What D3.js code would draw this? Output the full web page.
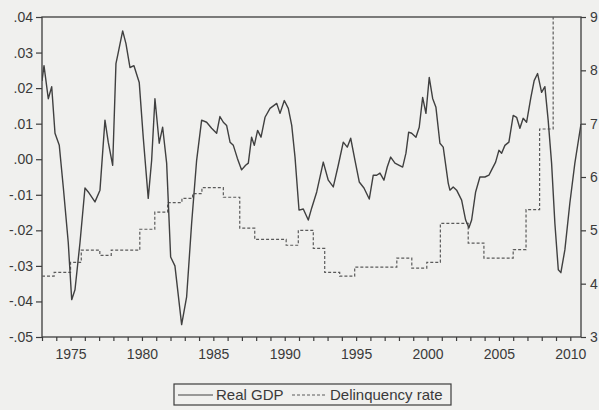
<!DOCTYPE html>
<html>
<head>
<meta charset="utf-8">
<script src="https://cdn.jsdelivr.net/npm/d3@7"></script>
<style>
  html, body { margin: 0; padding: 0; background: #f0f0ee; }
  svg { display: block; }
  text { font-family: "Liberation Sans", Arial, sans-serif; fill: #3a3a3a; }
</style>
</head>
<body>
<svg id="chart" width="599" height="410"></svg>
<script>
// ---- Data ----
const gdpYears = [1973.0,1973.14,1973.44,1973.68,1973.91,1974.21,1974.49,1974.84,1975.08,1975.31,
  1975.66,1976.01,1976.24,1976.71,1977.06,1977.41,1977.64,1977.95,1978.18,1978.34,
  1978.65,1978.88,1979.16,1979.44,1979.81,1980.09,1980.44,1980.68,1980.91,1981.21,
  1981.45,1981.73,1982.01,1982.31,1982.78,
  1983.13,1983.48,1983.83,1984.18,1984.53,1984.88,1985.23,1985.46,1985.70,1985.93,
  1986.17,1986.40,1986.68,1986.98,1987.26,1987.45,1987.68,1987.87,1988.10,1988.34,
  1988.62,1988.97,1989.44,1989.67,1989.97,1990.25,1990.49,1990.72,1991.00,1991.30,
  1991.65,1991.89,
  1992.24,1992.70,1993.05,1993.40,1993.75,1994.10,1994.38,1994.62,1994.92,1995.22,
  1995.55,1995.92,1996.20,1996.44,1996.67,1996.95,1997.18,1997.42,1997.72,1998.02,
  1998.26,1998.49,1998.68,1998.89,1999.19,1999.42,1999.66,1999.89,2000.12,2000.36,
  2000.59,2000.87,2001.10,2001.45,
  2001.57,2001.80,2002.04,2002.39,2002.67,2002.90,2003.09,2003.37,2003.67,2004.02,
  2004.30,2004.49,2004.77,2005.00,2005.19,2005.42,2005.70,2006.00,2006.24,2006.47,
  2006.70,2006.94,2007.24,2007.47,2007.71,2007.99,2008.22,2008.45,2008.69,2008.92,
  2009.16,2009.34,2009.62,2009.97,2010.32,2010.75];

const gdpValues = [0.022,0.0263,0.017,0.0204,0.0073,0.0039,-0.0078,-0.0235,-0.0395,-0.0367,
  -0.0235,-0.0081,-0.0092,-0.012,-0.0087,0.011,0.0048,-0.0017,0.0269,0.030,
  0.0361,0.0325,0.0258,0.0263,0.0216,0.0062,-0.011,-0.0003,0.017,0.0045,
  0.009,-0.0011,-0.0275,-0.030,-0.0465,
  -0.0387,-0.018,-0.0003,0.011,0.0104,0.0087,0.0073,0.012,0.0104,0.0095,
  0.0048,0.0039,0.0003,-0.003,-0.0017,-0.0011,0.0062,0.0039,0.0081,0.0062,
  0.0118,0.0143,0.0157,0.0129,0.0165,0.0143,0.0095,0.0006,-0.0143,-0.014,
  -0.0171,-0.0137,
  -0.0092,-0.0008,-0.0059,-0.0078,-0.0017,0.0048,0.0034,0.0059,-0.0003,-0.0064,
  -0.0081,-0.0112,-0.0045,-0.0045,-0.0039,-0.0059,-0.0022,0.0006,-0.0011,-0.0017,
  -0.0022,0.0017,0.0076,0.0073,0.0062,0.009,0.0174,0.0129,0.023,0.0171,
  0.0146,0.0045,0.0034,-0.0067,
  -0.0087,-0.0078,-0.0087,-0.0115,-0.0171,-0.0193,-0.0171,-0.0092,-0.005,-0.005,
  -0.0045,-0.003,-0.0008,0.0025,0.0017,0.0039,0.0048,0.0123,0.0118,0.0087,
  0.0115,0.0104,0.0174,0.0221,0.0241,0.0188,0.0204,0.011,-0.0011,-0.018,
  -0.0311,-0.0319,-0.0255,-0.0123,-0.0011,0.0099];

// Delinquency rate: level changes (step series)
const delYears = [1973.0,1973.85,1975.0,1975.75,1977.05,1977.85,1979.85,1980.9,1981.8,1982.8,
  1983.55,1984.2,1985.7,1986.85,1987.9,1990.1,1990.95,1992.0,1992.8,1993.85,
  1994.9,1997.85,1998.9,1999.95,2000.9,2002.85,2003.95,2006.0,2006.9,2007.85,
  2008.8,2010.75];
const delValues = [4.14,4.21,4.40,4.63,4.53,4.63,5.02,5.34,5.52,5.60,
  5.69,5.80,5.62,5.04,4.83,4.72,5.00,4.66,4.21,4.14,
  4.31,4.48,4.29,4.40,5.13,4.76,4.48,4.64,5.39,6.90,
  10.5,10.5];

const leftTicks = [0.04,0.03,0.02,0.01,0.00,-0.01,-0.02,-0.03,-0.04,-0.05];
const leftTickLabels = [".04",".03",".02",".01",".00","-.01","-.02","-.03","-.04","-.05"];
const rightTicks = [3,4,5,6,7,8,9];
const rightTickLabels = ["3","4","5","6","7","8","9"];
const yearTicks = d3.range(1973, 2011);
const yearLabels = [1975,1980,1985,1990,1995,2000,2005,2010];
const seriesNames = ["Real GDP","Delinquency rate"];

// ---- Layout ----
const L = 42, R = 581, T = 17, B = 337;
const svg = d3.select("#chart");
const ink = "#3c3c3c";

const x = d3.scaleLinear().domain([1973, 2010.75]).range([L, R]);
const yL = d3.scaleLinear().domain([-0.05, 0.04]).range([B, T]);
const yR = d3.scaleLinear().domain([3, 9]).range([B, T]);

svg.append("defs").append("clipPath").attr("id","plotclip")
  .append("rect").attr("x",L).attr("y",T).attr("width",R-L).attr("height",B-T);

// Frame
svg.append("rect").attr("x",L).attr("y",T).attr("width",R-L).attr("height",B-T)
  .attr("fill","none").attr("stroke",ink).attr("stroke-width",1.3);

// Left axis
const axL = svg.append("g").attr("transform",`translate(${L},0)`)
  .call(d3.axisLeft(yL).tickValues(leftTicks).tickSize(6).tickPadding(3)
    .tickFormat((d,i)=>leftTickLabels[i]));
// Right axis
const axR = svg.append("g").attr("transform",`translate(${R},0)`)
  .call(d3.axisRight(yR).tickValues(rightTicks).tickSize(5).tickPadding(4)
    .tickFormat((d,i)=>rightTickLabels[i]));
// Bottom axis: yearly ticks
const axB = svg.append("g").attr("transform",`translate(0,${B})`)
  .call(d3.axisBottom(x).tickValues(yearTicks).tickSize(4)
    .tickFormat(d => yearLabels.includes(d) ? String(d) : ""));
axB.selectAll("text").attr("dy","1.05em");

[axL, axR, axB].forEach(g => {
  g.select(".domain").remove();
  g.selectAll("line").attr("stroke",ink).attr("stroke-width",1.2);
  g.selectAll("text").style("font-size","14px").attr("fill","#3a3a3a");
});

const plot = svg.append("g").attr("clip-path","url(#plotclip)");

// Delinquency rate (dashed, right axis)
const delData = d3.zip(delYears, delValues);
plot.append("path").datum(delData)
  .attr("fill","none").attr("stroke","#5a5a5a").attr("stroke-width",1.2)
  .attr("stroke-dasharray","3,2")
  .attr("d", d3.line().x(d=>x(d[0])).y(d=>yR(d[1])).curve(d3.curveStepAfter));

// Real GDP (solid, left axis)
const gdpData = d3.zip(gdpYears, gdpValues);
plot.append("path").datum(gdpData)
  .attr("fill","none").attr("stroke","#404040").attr("stroke-width",1.4)
  .attr("stroke-linejoin","round")
  .attr("d", d3.line().x(d=>x(d[0])).y(d=>yL(d[1])));

// Legend
const lg = svg.append("g");
lg.append("rect").attr("x",174).attr("y",384).attr("width",277).attr("height",21)
  .attr("fill","none").attr("stroke",ink).attr("stroke-width",1.2);
lg.append("line").attr("x1",178).attr("x2",213).attr("y1",395).attr("y2",395)
  .attr("stroke","#404040").attr("stroke-width",1.2);
lg.append("text").attr("x",216).attr("y",400).style("font-size","15px").text(seriesNames[0]);
lg.append("line").attr("x1",292).attr("x2",327).attr("y1",395).attr("y2",395)
  .attr("stroke","#5a5a5a").attr("stroke-width",1.2).attr("stroke-dasharray","3,2");
lg.append("text").attr("x",330).attr("y",400).style("font-size","15px").text(seriesNames[1]);
</script>
</body>
</html>
